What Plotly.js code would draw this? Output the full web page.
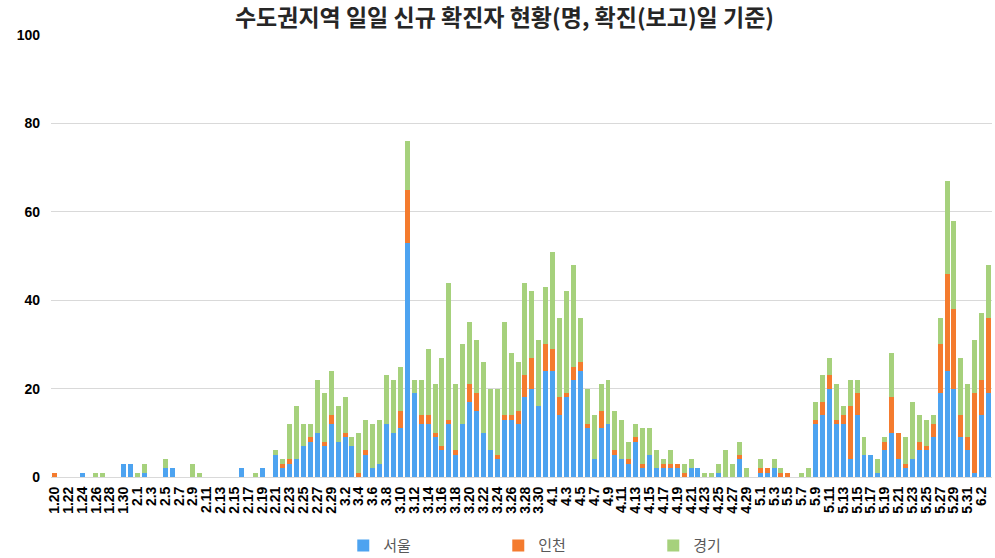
<!DOCTYPE html>
<html>
<head>
<meta charset="utf-8">
<script src="https://cdn.plot.ly/plotly-3.0.1.min.js"></script>
<style>html,body{margin:0;padding:0;background:#fff;}#chart{width:995px;height:558px;}</style>
</head>
<body>
<div id="chart"></div>
<script>
const categories = [
 "1.20","1.21","1.22","1.23","1.24","1.25","1.26","1.27","1.28","1.29","1.30","1.31",
 "2.1","2.2","2.3","2.4","2.5","2.6","2.7","2.8","2.9","2.10","2.11","2.12","2.13","2.14","2.15","2.16","2.17","2.18","2.19","2.20","2.21","2.22","2.23","2.24","2.25","2.26","2.27","2.28","2.29",
 "3.1","3.2","3.3","3.4","3.5","3.6","3.7","3.8","3.9","3.10","3.11","3.12","3.13","3.14","3.15","3.16","3.17","3.18","3.19","3.20","3.21","3.22","3.23","3.24","3.25","3.26","3.27","3.28","3.29","3.30","3.31",
 "4.1","4.2","4.3","4.4","4.5","4.6","4.7","4.8","4.9","4.10","4.11","4.12","4.13","4.14","4.15","4.16","4.17","4.18","4.19","4.20","4.21","4.22","4.23","4.24","4.25","4.26","4.27","4.28","4.29","4.30",
 "5.1","5.2","5.3","5.4","5.5","5.6","5.7","5.8","5.9","5.10","5.11","5.12","5.13","5.14","5.15","5.16","5.17","5.18","5.19","5.20","5.21","5.22","5.23","5.24","5.25","5.26","5.27","5.28","5.29","5.30","5.31",
 "6.1","6.2","6.3"
];

const seoul = [
 0,0,0,0,1,0,0,0,0,0,3,3,
 0,1,0,0,2,2,0,0,0,0,0,0,0,0,0,2,0,0,2,0,5,2,3,4,7,8,10,7,12,
 8,9,7,0,5,2,3,12,10,11,53,19,12,12,9,6,12,5,12,17,15,10,6,4,13,13,12,18,20,16,24,
 24,14,18,22,24,11,4,11,12,5,4,3,8,2,5,2,2,2,2,0,2,2,0,0,1,0,0,4,0,0,
 1,1,2,0,0,0,0,0,12,14,20,12,12,4,14,5,5,1,6,10,4,2,4,6,6,9,19,24,20,9,6,
 1,14,19
];

const incheon = [
 1,0,0,0,0,0,0,0,0,0,0,0,
 0,0,0,0,0,0,0,0,0,0,0,0,0,0,0,0,0,0,0,0,0,1,1,0,0,1,0,1,2,
 0,1,0,1,1,0,0,0,0,4,12,0,2,2,1,1,1,1,0,4,4,0,0,1,1,1,3,5,7,0,6,
 5,4,1,3,2,1,0,4,0,1,0,1,1,1,0,0,1,1,1,1,0,0,0,0,0,0,0,1,0,0,
 1,1,0,1,1,0,0,0,1,3,3,1,2,12,5,0,0,0,2,8,6,1,0,2,1,3,11,22,18,5,3,
 18,8,17
];

const gyeonggi = [
 0,0,0,0,0,0,1,1,0,0,0,0,
 1,2,0,0,2,0,0,0,3,1,0,0,0,0,0,0,0,1,0,0,1,1,8,12,5,3,12,11,10,
 8,8,2,9,7,10,10,11,12,10,11,3,8,15,11,20,31,15,18,14,12,16,14,15,21,14,11,21,15,15,13,
 22,18,23,23,10,8,10,6,10,9,9,4,3,8,6,4,1,3,0,2,2,0,1,1,2,6,3,3,2,0,
 2,0,2,1,0,0,1,2,4,6,4,8,2,6,3,4,0,3,1,10,0,6,13,6,6,2,6,21,20,13,12,
 12,15,12
];

const seriesNames = ["서울", "인천", "경기"];
const seriesColors = ["#4DA3F0", "#F47B2E", "#A6D17C"];
const yTicks = [0, 20, 40, 60, 80, 100];
const tickLabels = categories.filter((c, i) => i % 2 === 0);

const font = "'Noto Sans CJK KR', 'Noto Sans', sans-serif";
const tickFont = "'Liberation Sans', Arial, sans-serif";

const traces = [seoul, incheon, gyeonggi].map((vals, k) => ({
  type: "bar",
  name: seriesNames[k],
  x: categories,
  y: vals,
  marker: {color: seriesColors[k], line: {width: 0}},
  hoverinfo: "x+y+name"
}));

const layout = {
  width: 995,
  height: 558,
  barmode: "stack",
  bargap: 0.28,
  paper_bgcolor: "#ffffff",
  plot_bgcolor: "#ffffff",
  margin: {l: 51, r: 3, t: 35, b: 81},
  title: {
    text: "수도권지역 일일 신규 확진자 현황(명, 확진(보고)일 기준)",
    font: {family: font, size: 23, color: "#262626", weight: "bold"},
    x: 0.507, xref: "container", xanchor: "center",
    y: 0.967, yref: "container", yanchor: "middle"
  },
  xaxis: {
    type: "category",
    tickmode: "array",
    tickvals: tickLabels,
    ticktext: tickLabels,
    tickangle: -90,
    tickfont: {family: tickFont, size: 14, color: "#000000", weight: "bold"},
    ticks: "",
    ticklabelstandoff: 3,
    showgrid: false,
    showline: true,
    linecolor: "#d9d9d9",
    linewidth: 1,
    zeroline: false,
    fixedrange: true
  },
  yaxis: {
    range: [0, 100],
    tickmode: "array",
    tickvals: yTicks,
    ticktext: yTicks.map(String),
    tickfont: {family: tickFont, size: 14, color: "#000000", weight: "bold"},
    ticks: "",
    ticklabelstandoff: 10,
    showgrid: true,
    gridcolor: "#d9d9d9",
    gridwidth: 1,
    zeroline: false,
    showline: false,
    fixedrange: true
  },
  showlegend: true,
  legend: {
    orientation: "h",
    xref: "container",
    x: 0.345,
    xanchor: "left",
    yref: "container",
    y: 0.022,
    yanchor: "middle",
    entrywidth: 110,
    entrywidthmode: "pixels",
    font: {family: font, size: 15, color: "#595959"},
    traceorder: "normal",
    bgcolor: "rgba(0,0,0,0)"
  }
};

Plotly.newPlot("chart", traces, layout, {displayModeBar: false, staticPlot: true});
</script>
</body>
</html>
